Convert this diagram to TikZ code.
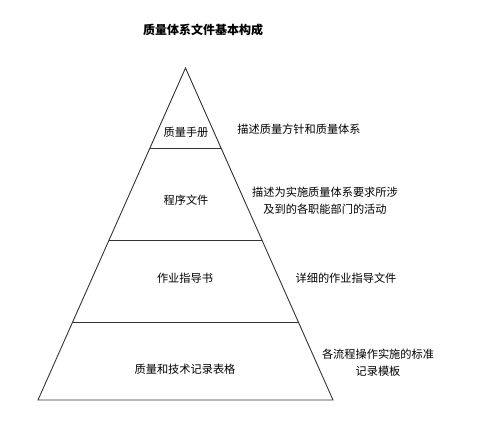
\documentclass[tikz,border=0pt]{standalone}
\usepackage{fontspec}
\usetikzlibrary{calc}
\setmainfont{Noto Sans CJK SC}
\begin{document}
\begin{tikzpicture}[x=1pt,y=-1pt,
  edge/.style={draw=black!80,line width=0.9pt},
  lvl/.style={font=\fontsize{11.2}{12}\selectfont,inner sep=0pt},
  desc/.style={font=\fontsize{11.2}{17}\selectfont,inner sep=0pt,align=center}]
\useasboundingbox (0,0) rectangle (479,436);
\node[inner sep=0pt,font=\fontsize{12}{13}\selectfont\bfseries] (title) at (203,30) {质量体系文件基本构成};
\coordinate (apex) at (185.5,68);
\coordinate (bl) at (38,400);
\coordinate (br) at (333,400);
\draw[edge] (bl) -- (apex) -- (br) -- cycle;
\draw[edge] ($(apex)!0.241!(bl)$) coordinate (l1) -- ($(apex)!0.241!(br)$) coordinate (r1);
\draw[edge] ($(apex)!0.518!(bl)$) coordinate (l2) -- ($(apex)!0.518!(br)$) coordinate (r2);
\draw[edge] ($(apex)!0.765!(bl)$) coordinate (l3) -- ($(apex)!0.765!(br)$) coordinate (r3);
\node[lvl] (n1) at (186,132) {质量手册};
\node[lvl] (n2) at (186,200) {程序文件};
\node[lvl] (n3) at (185,278) {作业指导书};
\node[lvl] (n4) at (185,369) {质量和技术记录表格};
\node[lvl] (d1) at (299,129) {描述质量方针和质量体系};
\node[desc] (d2) at (325,201) {描述为实施质量体系要求所涉\\及到的各职能部门的活动};
\node[lvl] (d3) at (346,278) {详细的作业指导文件};
\node[desc] (d4) at (378,363) {各流程操作实施的标准\\记录模板};
\end{tikzpicture}
\end{document}
